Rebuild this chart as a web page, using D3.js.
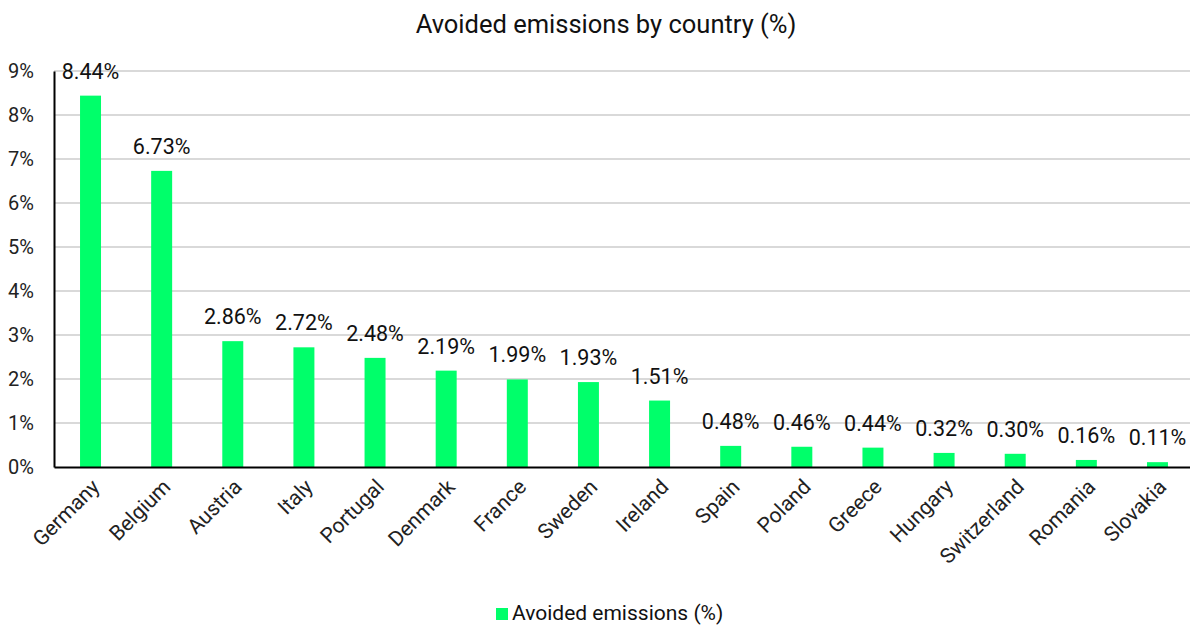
<!DOCTYPE html>
<html>
<head>
<meta charset="utf-8">
<script src="https://cdn.jsdelivr.net/npm/d3@7"></script>
<style>
  html, body { margin: 0; padding: 0; background: #fff; }
  svg { display: block; font-family: Roboto, "Noto Sans", sans-serif; }
</style>
</head>
<body>
<svg id="chart" width="1190" height="625"></svg>
<script>
// Avoided emissions share per country
const countries = ["Germany", "Belgium", "Austria", "Italy", "Portugal", "Denmark", "France", "Sweden",
  "Ireland", "Spain", "Poland", "Greece", "Hungary", "Switzerland", "Romania", "Slovakia"];
const avoided = [8.44, 6.73, 2.86, 2.72, 2.48, 2.19, 1.99, 1.93, 1.51, 0.48, 0.46, 0.44, 0.32, 0.30, 0.16, 0.11];
const yTicks = [0, 1, 2, 3, 4, 5, 6, 7, 8, 9];
const seriesName = "Avoided emissions (%)";
const chartTitle = "Avoided emissions by country (%)";

const svg = d3.select("#chart");
const W = 1190, H = 625;
const plotLeft = 54, plotTop = 71, plotBottom = 467;
const green = "#00ff6a";

// band layout runs a little past the right edge of the canvas
const x = d3.scaleBand().domain(countries).range([plotLeft, 1194]).paddingInner(0.705).paddingOuter(0.366);
const y = d3.scaleLinear().domain([0, 9]).range([plotBottom, plotTop]);

// title
svg.append("text").attr("x", 606).attr("y", 33).attr("text-anchor", "middle")
  .attr("font-size", 25.5).attr("fill", "#111").text(chartTitle);

// gridlines
svg.append("g").selectAll("line").data(yTicks.filter(d => d > 0)).join("line")
  .attr("x1", plotLeft).attr("x2", W)
  .attr("y1", d => y(d)).attr("y2", d => y(d))
  .attr("stroke", "#d9d9d9").attr("stroke-width", 2);

// y axis
const yAxis = svg.append("g").attr("transform", `translate(${plotLeft},0)`)
  .call(d3.axisLeft(y).tickValues(yTicks).tickFormat(d => d + "%").tickSize(0).tickPadding(20));
yAxis.select(".domain").attr("stroke", "#000").attr("stroke-width", 2);
yAxis.selectAll("text").attr("font-size", 20).attr("fill", "#222").attr("font-family", "Roboto");

// bars
svg.append("g").selectAll("rect").data(avoided).join("rect")
  .attr("x", (d, i) => x(countries[i]))
  .attr("y", d => y(d))
  .attr("width", x.bandwidth())
  .attr("height", d => y(0) - y(d))
  .attr("fill", green);

// value labels
svg.append("g").selectAll("text").data(avoided).join("text")
  .attr("x", (d, i) => x(countries[i]) + x.bandwidth() / 2)
  .attr("y", d => y(d) - 17)
  .attr("text-anchor", "middle").attr("font-size", 21.5).attr("fill", "#111")
  .text(d => d.toFixed(2) + "%");

// x axis
const xAxis = svg.append("g").attr("transform", `translate(0,${y(0)})`)
  .call(d3.axisBottom(x).tickSize(0).tickPadding(0));
xAxis.select(".domain").attr("stroke", "#000").attr("stroke-width", 2);
xAxis.selectAll("text")
  .attr("font-size", 21).attr("fill", "#222").attr("font-family", "Roboto")
  .attr("text-anchor", "end")
  .attr("dy", "0.35em")
  .attr("transform", "translate(5,16) rotate(-45)");

// legend
const lg = svg.append("g");
lg.append("rect").attr("x", 496).attr("y", 608).attr("width", 12).attr("height", 12).attr("fill", green);
lg.append("text").attr("x", 512).attr("y", 619.5).attr("font-size", 21).attr("fill", "#111").text(seriesName);
</script>
</body>
</html>
